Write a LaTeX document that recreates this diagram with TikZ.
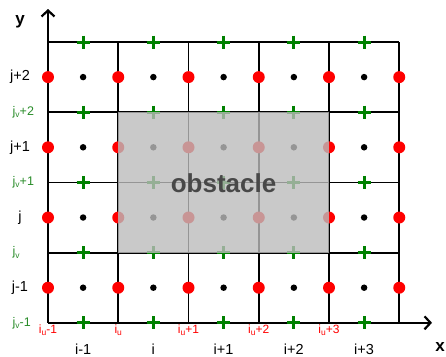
\documentclass[tikz,border=0pt]{standalone}
\usepackage{fontspec}
\setmainfont{Liberation Sans}
\usetikzlibrary{arrows.meta}
\definecolor{gr}{RGB}{0,128,0}
\definecolor{grtxt}{RGB}{40,140,40}
\definecolor{obst}{RGB}{187,187,187}
\definecolor{otxt}{RGB}{72,72,72}
\newcommand\sbs[1]{\raisebox{-0.35ex}{\fontsize{8.5}{8.5}\selectfont #1}}
\begin{document}
\begin{tikzpicture}[x=1pt,y=-1pt,
  gridline/.style={line width=1.8pt,black},
  axisline/.style={line width=2.4pt,black,-{Straight Barb[length=6pt,width=13pt,line width=2.2pt]}},
  rdot/.style={circle,fill=red,inner sep=0pt,minimum size=12pt},
  bdot/.style={circle,fill=black,inner sep=0pt,minimum size=6.5pt},
  gplus/.style={line width=3pt,gr},
  blbl/.style={font=\fontsize{14.5}{14.5}\selectfont,inner sep=0pt,black},
  glbl/.style={font=\fontsize{12.5}{12.5}\selectfont,inner sep=0pt,text=grtxt,anchor=west},
  rlbl/.style={font=\fontsize{12}{12}\selectfont,inner sep=0pt,text=red},
  axlbl/.style={font=\bfseries\fontsize{17}{17}\selectfont,inner sep=0pt},
  obstbox/.style={fill=obst,fill opacity=0.8},
  obstlbl/.style={font=\bfseries\fontsize{26}{26}\selectfont,text=otxt,inner sep=0pt}
]
\useasboundingbox (0,0) rectangle (446,356);
% grid
\foreach \m in {0,...,3} {
  \draw[gridline] (48,42+70.2*\m) -- (399.25,42+70.2*\m);
}
\foreach \k in {1,...,5} {
  \draw[gridline] (48+70.25*\k,42) -- (48+70.25*\k,322.8);
}
% axes
\coordinate (O) at (48,322.8);
\coordinate (Ytip) at (48,9);
\coordinate (Xtip) at (432,322.8);
\draw[axisline] (O) -- (Ytip);
\draw[axisline] (O) -- (Xtip);
\node[axlbl] (ylab) at (20,22) {y};
\node[axlbl] (xlab) at (440,347) {x};
% red dots
\foreach \k in {0,...,5} \foreach \r in {0,...,3} {
  \node[rdot] (r\k\r) at (48+70.25*\k,77.1+70.2*\r) {};
}
% black dots
\foreach \c in {0,...,4} \foreach \r in {0,...,3} {
  \node[bdot] (b\c\r) at (83.1+70.25*\c,77.1+70.2*\r) {};
}
% green plus
\foreach \c in {0,...,4} \foreach \m in {0,...,4} {
  \draw[gplus] (83.1+70.25*\c-6.5,42+70.2*\m) -- (83.1+70.25*\c+6.5,42+70.2*\m);
  \draw[gplus] (83.1+70.25*\c,42+70.2*\m-6.5) -- (83.1+70.25*\c,42+70.2*\m+6.5);
}
% obstacle
\fill[obstbox] (118.25,112.2) rectangle (329,252.6);
\node[obstlbl] (obs) at (223.6,183) {obstacle};
% left labels
\node[blbl] (lj2) at (20,77.1) {j+2};
\node[blbl] (lj1) at (20,147.3) {j+1};
\node[blbl] (lj0) at (20,217.5) {j};
\node[blbl] (ljm) at (20,287.7) {j-1};
\node[glbl] (gv2) at (12.5,112.2) {j\sbs{v}+2};
\node[glbl] (gv1) at (12.5,182.4) {j\sbs{v}+1};
\node[glbl] (gv0) at (12.5,252.6) {j\sbs{v}};
\node[glbl] (gvm) at (12.5,322.8) {j\sbs{v}-1};
% bottom red labels
\node[rlbl] (iu0) at (48,330.5) {i\sbs{u}-1};
\node[rlbl] (iu1) at (118.25,330.5) {i\sbs{u}};
\node[rlbl] (iu2) at (188.5,330.5) {i\sbs{u}+1};
\node[rlbl] (iu3) at (258.75,330.5) {i\sbs{u}+2};
\node[rlbl] (iu4) at (329,330.5) {i\sbs{u}+3};
% bottom black labels
\node[blbl] (ic0) at (83.1,349) {i-1};
\node[blbl] (ic1) at (153.35,349) {i};
\node[blbl] (ic2) at (223.6,349) {i+1};
\node[blbl] (ic3) at (293.85,349) {i+2};
\node[blbl] (ic4) at (364.1,349) {i+3};
\end{tikzpicture}
\end{document}
